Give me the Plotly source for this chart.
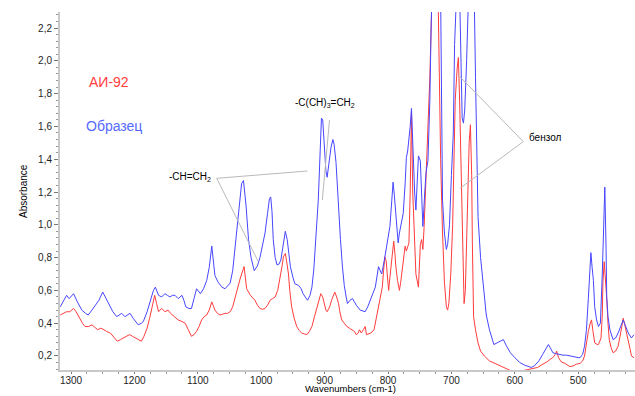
import plotly.graph_objects as go

# ---- data ----
blue_wn = [1317,1313,1307,1303,1299,1296,1290,1283,1277,1273,1267,1262,1256,1250,1246,1241,1234,1228,1224,1220,1215,1211,1207,1202,1197,1194,1189,1186,1180,1175,1170,1167,1162,1157,1152,1148,1144,1140,1136,1131,1125,1122,1119,1114,1110,1106,1102,1096,1091,1086,1082,1078,1075,1073,1068,1062,1057,1053,1049,1045,1041,1036,1031,1028,1024,1020,1016,1011,1006,1002,998,994,990,987,985,983,981,978,975,972,969,965,962,959,956,954,950,947,941,937,934,930,927,923,920,917,915,912,910,907,905,903,900,898,896,894,890,887,885,882,880,877,875,872,869,866,864,860,856,853,850,844,840,836,832,828,824,820,815,812,810,806,802,797,794,792,790,788,784,782,779,776,773,771,769,767,765,763,761,758,756,754,752,749,747,745,742,740,737,734,732,730,725,720,717,715,714,711,708,706,703,700,697,695,693,690,687,685,683,681,679,676,673,668,664,662,660,658,654,650,647,645,640,636,633,628,622,618,613,607,600,592,585,578,574,569,562,556,551,547,544,540,536,530,524,518,513,509,505,500,497,493,490,487,484,481,480,478,476,474,471,468,465,462,460,458,456,455,453,450,445,441,437,433,429,426,421,416,412]
blue_abs = [0.50,0.53,0.57,0.55,0.57,0.58,0.53,0.48,0.46,0.45,0.48,0.51,0.54,0.59,0.56,0.52,0.47,0.44,0.45,0.46,0.44,0.45,0.46,0.43,0.40,0.39,0.40,0.41,0.47,0.54,0.60,0.62,0.57,0.56,0.58,0.57,0.56,0.57,0.57,0.55,0.57,0.54,0.50,0.49,0.49,0.55,0.61,0.58,0.61,0.66,0.74,0.87,0.76,0.69,0.65,0.62,0.61,0.63,0.645,0.72,0.87,1.05,1.25,1.27,1.12,0.91,0.80,0.72,0.75,0.80,0.87,0.95,1.07,1.16,1.17,1.08,0.91,0.80,0.755,0.76,0.785,0.89,0.96,0.91,0.80,0.745,0.68,0.64,0.63,0.61,0.58,0.56,0.54,0.57,0.62,0.73,0.85,1.00,1.15,1.45,1.65,1.64,1.45,1.33,1.29,1.35,1.47,1.52,1.49,1.38,1.23,1.06,0.91,0.75,0.63,0.56,0.52,0.54,0.55,0.53,0.51,0.48,0.475,0.47,0.50,0.54,0.58,0.62,0.745,0.72,0.70,0.78,0.87,0.99,1.15,1.26,1.18,1.09,0.89,0.95,1.00,1.07,1.25,1.41,1.45,1.52,1.60,1.71,1.45,1.20,1.09,1.30,1.42,1.39,1.15,0.99,1.20,1.32,1.39,1.76,2.2,2.5,2.7,2.6,2.4,1.7,1.15,0.95,0.85,0.88,1.0,1.3,1.56,2.1,2.5,2.6,2.4,1.9,1.65,1.62,1.7,2.0,2.4,2.6,2.4,1.9,1.4,1.05,0.80,0.65,0.54,0.45,0.36,0.30,0.27,0.28,0.29,0.30,0.26,0.22,0.19,0.16,0.145,0.135,0.13,0.14,0.17,0.21,0.24,0.27,0.25,0.22,0.215,0.21,0.205,0.205,0.20,0.20,0.196,0.19,0.19,0.21,0.26,0.36,0.55,0.78,0.83,0.74,0.66,0.50,0.42,0.38,0.40,0.70,1.0,1.23,0.85,0.56,0.44,0.36,0.30,0.31,0.34,0.38,0.42,0.39,0.34,0.31,0.33]

red_wn = [1317,1312,1307,1302,1296,1292,1287,1282,1278,1272,1267,1262,1258,1253,1249,1244,1238,1233,1227,1222,1217,1212,1208,1203,1199,1194,1189,1185,1180,1176,1173,1168,1165,1162,1157,1152,1147,1143,1137,1131,1125,1120,1115,1110,1106,1102,1098,1094,1090,1086,1082,1078,1075,1073,1069,1065,1061,1057,1053,1049,1045,1041,1037,1033,1027,1025,1023,1017,1010,1006,1002,998,994,990,986,982,978,974,970,967,965,962,960,957,955,952,948,944,940,936,932,928,924,920,916,912,909,906,903,901,898,896,892,889,884,881,878,876,873,869,865,861,857,853,850,847,845,842,839,836,834,830,827,822,818,816,813,809,807,805,803,801,799,797,794,791,789,788,785,782,780,778,775,773,771,769,767,765,763,761,758,756,752,750,749,747,745,743,740,738,736,734,731,728,724,721,719,717,714,711,708,706,704,701,698,696,694,691,689,687,685,684,682,681,680,678,676,674,672,670,668,667,665,662,658,654,648,640,632,624,618,612,606,600,594,588,582,576,570,564,558,553,549,544,540,536,534,531,527,521,516,513,508,503,497,493,490,487,484,481,479,477,474,470,468,466,464,462,461,459,457,455,453,451,448,445,441,437,433,429,426,421,418,416,412]
red_abs = [0.45,0.46,0.47,0.47,0.49,0.47,0.43,0.40,0.38,0.38,0.39,0.37,0.36,0.37,0.36,0.35,0.34,0.32,0.29,0.30,0.31,0.32,0.33,0.32,0.31,0.30,0.29,0.32,0.37,0.43,0.48,0.57,0.52,0.47,0.49,0.47,0.48,0.46,0.44,0.42,0.41,0.40,0.36,0.32,0.33,0.35,0.38,0.42,0.44,0.45,0.48,0.53,0.50,0.48,0.46,0.45,0.455,0.46,0.46,0.47,0.50,0.56,0.62,0.675,0.745,0.68,0.61,0.57,0.54,0.51,0.49,0.485,0.49,0.51,0.54,0.55,0.56,0.60,0.68,0.75,0.805,0.825,0.78,0.70,0.60,0.50,0.43,0.38,0.355,0.34,0.335,0.33,0.35,0.38,0.44,0.50,0.55,0.58,0.56,0.52,0.48,0.47,0.50,0.54,0.59,0.56,0.52,0.47,0.42,0.40,0.38,0.37,0.36,0.35,0.33,0.34,0.36,0.34,0.36,0.38,0.33,0.335,0.34,0.36,0.44,0.49,0.54,0.62,0.72,0.805,0.78,0.68,0.60,0.68,0.785,0.90,0.82,0.76,0.66,0.60,0.65,0.72,0.80,0.87,0.84,0.86,0.89,1.20,1.69,1.20,0.88,0.70,0.62,0.75,0.88,0.91,0.85,0.99,1.30,1.60,1.69,1.9,2.35,2.7,2.7,2.4,1.9,1.4,0.95,0.65,0.50,0.48,0.52,0.70,1.00,1.40,1.76,1.95,2.02,1.75,1.35,1.15,0.80,0.54,0.52,0.60,0.90,1.25,1.50,1.61,1.30,0.90,0.44,0.36,0.28,0.23,0.20,0.17,0.155,0.14,0.13,0.12,0.11,0.105,0.105,0.11,0.115,0.12,0.125,0.13,0.145,0.155,0.165,0.18,0.19,0.21,0.23,0.19,0.165,0.155,0.14,0.135,0.14,0.15,0.155,0.17,0.20,0.28,0.35,0.40,0.42,0.36,0.28,0.27,0.27,0.29,0.31,0.45,0.65,0.775,0.68,0.55,0.40,0.30,0.25,0.22,0.23,0.26,0.34,0.43,0.38,0.30,0.24,0.20,0.19]

y_tick_vals = [0.2,0.4,0.6,0.8,1.0,1.2,1.4,1.6,1.8,2.0,2.2]
y_tick_text = ["0,2","0,4","0,6","0,8","1,0","1,2","1,4","1,6","1,8","2,0","2,2"]
x_tick_vals = [1300,1200,1100,1000,900,800,700,600,500]

RED = "rgb(255,60,60)"
BLUE = "rgb(70,70,255)"
FONT = "Liberation Sans, Arial, sans-serif"

fig = go.Figure()
fig.add_trace(go.Scatter(x=red_wn, y=red_abs, mode="lines", name="АИ-92",
                         line=dict(color=RED, width=1)))
fig.add_trace(go.Scatter(x=blue_wn, y=blue_abs, mode="lines", name="Образец",
                         line=dict(color=BLUE, width=1)))

# callout lines
GREY = "rgb(185,185,185)"
callouts = [
    (1070.2, 1.2835, 927.3, 1.328),
    (1070.2, 1.2835, 1004.6, 0.775),
    (892.3, 1.639, 903.6, 1.151),
    (586.6, 1.507, 689.1, 1.913),
    (586.6, 1.507, 686.4, 1.2226),
]
for x0, y0, x1, y1 in callouts:
    fig.add_shape(type="line", x0=x0, y0=y0, x1=x1, y1=y1, xref="x", yref="y",
                  line=dict(color=GREY, width=1))

ann_font = dict(family=FONT, size=10, color="black")
fig.add_annotation(x=1240, y=1.871, text="АИ-92", showarrow=False,
                   font=dict(family=FONT, size=14, color="rgb(255,60,60)"))
fig.add_annotation(x=1232, y=1.602, text="Образец", showarrow=False,
                   font=dict(family=FONT, size=14, color="rgb(85,105,255)"))
fig.add_annotation(x=1149, y=1.293, text="-CH=CH<sub>2</sub>", showarrow=False,
                   xanchor="left", font=ann_font)
fig.add_annotation(x=899.4, y=1.741, text="-C(CH)<sub>3</sub>=CH<sub>2</sub>", showarrow=False,
                   font=ann_font)
fig.add_annotation(x=581.3, y=1.535, text="бензол", showarrow=False,
                   xanchor="left", font=ann_font)

# axis titles
fig.add_annotation(xref="paper", yref="paper", x=-37/575, y=(370 - 191) / 358,
                   xanchor="center", yanchor="middle",
                   text="Absorbance", textangle=-90, showarrow=False,
                   font=dict(family=FONT, size=10, color="black"))
fig.add_annotation(xref="paper", yref="paper", x=(350 - 60) / 575, y=-25.5/358,
                   xanchor="center", yanchor="bottom",
                   text="Wavenumbers (cm-1)", showarrow=False,
                   font=dict(family=FONT, size=9.5, color="black"))

fig.update_layout(
    width=635, height=396,
    margin=dict(l=60, r=0, t=12, b=26),
    paper_bgcolor="white", plot_bgcolor="white",
    showlegend=False,
    font=dict(family=FONT, size=10, color="rgb(30,30,30)"),
)
fig.update_xaxes(
    range=[1317.4, 410.4], tickvals=x_tick_vals, showgrid=False, zeroline=False,
    showline=True, linecolor="rgb(200,200,200)", linewidth=2,
    ticks="outside", ticklen=2, tickcolor="rgb(120,120,120)", tickwidth=1,
    ticklabelstandoff=-2,
    minor=dict(dtick=25, tick0=0, ticks="outside", ticklen=2, tickcolor="rgb(150,150,150)"),
    tickfont=dict(family=FONT, size=10, color="rgb(30,30,30)"),
)
fig.update_yaxes(
    range=[0.1146, 2.2976], tickvals=y_tick_vals, ticktext=y_tick_text,
    showgrid=False, zeroline=False,
    showline=True, linecolor="rgb(200,200,200)", linewidth=2,
    ticks="outside", ticklen=4, tickcolor="rgb(120,120,120)", tickwidth=1,
    minor=dict(dtick=0.04, tick0=0, ticks="outside", ticklen=2, tickcolor="rgb(150,150,150)"),
    tickfont=dict(family=FONT, size=10, color="rgb(30,30,30)"),
)

fig.write_html("out.html")
